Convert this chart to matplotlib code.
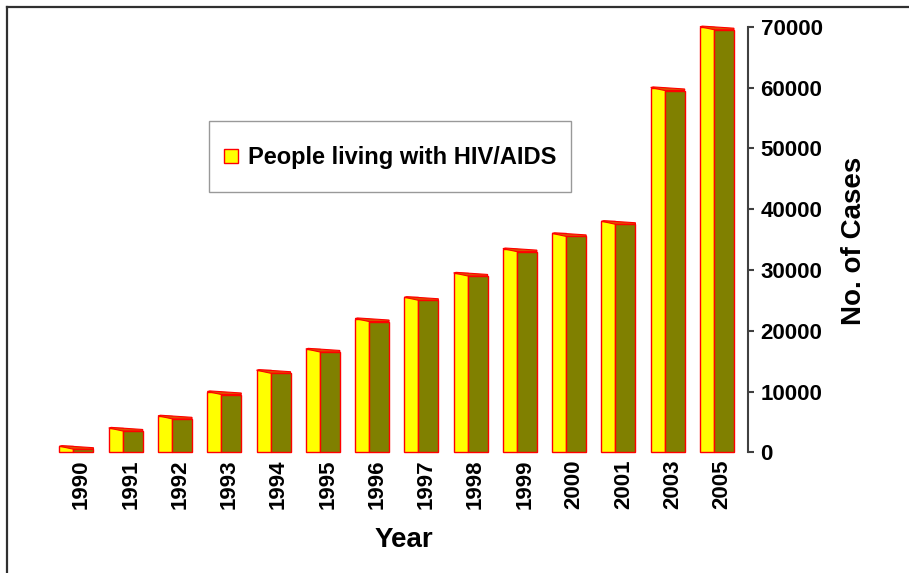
import matplotlib
matplotlib.use('Agg')
import matplotlib.pyplot as plt
from matplotlib.patches import Polygon
from matplotlib.lines import Line2D
from matplotlib.markers import MarkerStyle
from matplotlib.transforms import Affine2D

plt.rcParams['font.family'] = ['Liberation Sans', 'DejaVu Sans']
plt.rcParams['font.weight'] = 'bold'

# data
years = ['1990', '1991', '1992', '1993', '1994', '1995', '1996',
         '1997', '1998', '1999', '2000', '2001', '2003', '2005']
cases = [1000, 4000, 6000, 10000, 13500, 17000, 22000,
         25500, 29500, 33500, 36000, 38000, 60000, 70000]
yticks = [0, 10000, 20000, 30000, 40000, 50000, 60000, 70000]

yellow = '#ffff00'
olive = '#808000'
red = '#ff0000'

fig = plt.figure(figsize=(9.09, 5.73), dpi=100)
ax = fig.add_axes([41.5/909, 120.7/573, 706.5/909, 425.6/573])

x = list(range(len(years)))
unit = 70000/425.6   # data units per pixel
# front face (yellow) and side face (olive), side is a bit shorter
ax.bar([i - 0.345 for i in x], cases, width=0.284, align='edge',
       color=yellow, edgecolor=red, linewidth=1, clip_on=False)
side = [c - 3*unit for c in cases]
ax.bar([i - 0.061 for i in x], side, width=0.406, align='edge',
       color=olive, edgecolor=red, linewidth=1, clip_on=False)
# thin top face
for i, c in zip(x, cases):
    xl, xm, xr = i - 0.345, i - 0.061, i + 0.345
    top = Polygon([(xl, c), (xl + 0.05, c + 0.6*unit), (xr, c - 1.5*unit),
                   (xr, c - 3*unit), (xm, c - 3*unit)],
                  closed=True, facecolor='#e05000', edgecolor=red,
                  linewidth=0.8, clip_on=False)
    ax.add_patch(top)

ax.set_xlim(-0.71, 13.63)
ax.set_ylim(0, 70000)

for s in ['top', 'left', 'bottom']:
    ax.spines[s].set_visible(False)
ax.spines['right'].set_color('#404040')
ax.spines['right'].set_linewidth(1.5)

ax.yaxis.tick_right()
ax.set_yticks(yticks)
ax.set_yticklabels([str(t) for t in yticks], fontsize=16, fontweight='bold')
ax.tick_params(axis='y', direction='out', length=4, width=1.5,
               color='#404040', pad=5)
ax.set_xticks([i + 0.1 for i in x])
ax.set_xticklabels(years, rotation=90, fontsize=16, fontweight='bold')
ax.tick_params(axis='x', length=0, pad=5)

ax.set_xlabel('Year', fontsize=20, fontweight='bold')
ax.xaxis.set_label_coords(0.513, -0.175)
ax.yaxis.set_label_position('right')
ax.set_ylabel('No. of Cases', fontsize=20, fontweight='bold')
ax.yaxis.set_label_coords(1.1316, 0.4965)

# legend square, nudged down to sit level with the text
sq = MarkerStyle('s', transform=Affine2D().translate(0, -0.45))
handle = Line2D([], [], linestyle='none', marker=sq, markersize=10,
                markerfacecolor=yellow, markeredgecolor=red,
                markeredgewidth=1, label='People living with HIV/AIDS')
leg = ax.legend(handles=[handle],
                loc='upper left', bbox_to_anchor=(209/909, 1 - 121/573),
                bbox_transform=fig.transFigure, fancybox=False,
                prop={'size': 17, 'weight': 'bold'},
                handlelength=0.6, handleheight=2.25, handletextpad=0.4,
                borderpad=0.64, borderaxespad=0)
leg.get_frame().set_edgecolor('#808080')
leg.get_frame().set_linewidth(1)

# outer frame (top and left edges visible)
fig.add_artist(Line2D([7/909, 1], [1 - 7/573, 1 - 7/573],
                      transform=fig.transFigure, color='#303030', linewidth=1.6))
fig.add_artist(Line2D([7/909, 7/909], [0, 1 - 7/573],
                      transform=fig.transFigure, color='#303030', linewidth=1.6))

fig.savefig('out.png', dpi=100)
